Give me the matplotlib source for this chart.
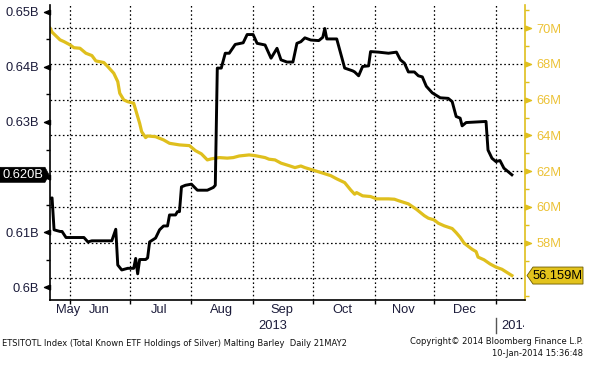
import matplotlib
matplotlib.use('Agg')
import matplotlib.pyplot as plt
import matplotlib.dates as mdates
from matplotlib.transforms import (blended_transform_factory, IdentityTransform,
                                   Bbox, TransformedBbox)
from matplotlib.patches import Polygon
from matplotlib.path import Path
import numpy as np
import pandas as pd

# ---------------- data ----------------
black_dates = ['2013-05-22', '2013-05-23', '2013-05-24', '2013-05-27', '2013-05-28', '2013-05-30',
               '2013-06-05', '2013-06-08', '2013-06-10', '2013-06-12', '2013-06-22', '2013-06-24',
               '2013-06-25', '2013-06-27', '2013-06-30', '2013-07-03', '2013-07-04', '2013-07-05',
               '2013-07-06', '2013-07-09', '2013-07-10', '2013-07-11', '2013-07-14', '2013-07-16',
               '2013-07-18', '2013-07-20', '2013-07-21', '2013-07-24', '2013-07-25', '2013-07-26',
               '2013-07-27', '2013-07-29', '2013-08-01', '2013-08-04', '2013-08-09', '2013-08-12',
               '2013-08-13', '2013-08-14', '2013-08-16', '2013-08-18', '2013-08-20', '2013-08-23',
               '2013-08-27', '2013-08-29', '2013-09-01', '2013-09-03', '2013-09-07', '2013-09-10',
               '2013-09-13', '2013-09-15', '2013-09-18', '2013-09-21', '2013-09-23', '2013-09-25',
               '2013-09-27', '2013-09-30', '2013-10-04', '2013-10-06', '2013-10-07', '2013-10-08',
               '2013-10-13', '2013-10-17', '2013-10-21', '2013-10-22', '2013-10-24', '2013-10-26',
               '2013-10-29', '2013-10-30', '2013-11-03', '2013-11-08', '2013-11-12', '2013-11-14',
               '2013-11-16', '2013-11-18', '2013-11-21', '2013-11-23', '2013-11-25', '2013-11-27',
               '2013-11-30', '2013-12-04', '2013-12-08', '2013-12-10', '2013-12-12', '2013-12-14',
               '2013-12-15', '2013-12-17', '2013-12-27', '2013-12-28', '2013-12-30', '2014-01-01',
               '2014-01-03', '2014-01-05', '2014-01-07', '2014-01-09']
black_vals = [0.6161, 0.6162, 0.6104, 0.6101, 0.6101, 0.6090,
              0.6090, 0.6090, 0.6082, 0.6084, 0.6084, 0.6105,
              0.6040, 0.6031, 0.6034, 0.6034, 0.6052, 0.6024,
              0.6050, 0.6050, 0.6053, 0.6082, 0.6089, 0.6104,
              0.6111, 0.6111, 0.6131, 0.6131, 0.6137, 0.6137,
              0.6182, 0.6185, 0.6187, 0.6176, 0.6176, 0.6181,
              0.6185, 0.6398, 0.6398, 0.6425, 0.6425, 0.6441,
              0.6444, 0.6459, 0.6459, 0.6443, 0.6440, 0.6416,
              0.6434, 0.6413, 0.6409, 0.6409, 0.6443, 0.6446,
              0.6453, 0.6449, 0.6448, 0.6454, 0.6470, 0.6451,
              0.6451, 0.6398, 0.6393, 0.6391, 0.6384, 0.6401,
              0.6402, 0.6428, 0.6427, 0.6425, 0.6427, 0.6413,
              0.6407, 0.6391, 0.6391, 0.6384, 0.6382, 0.6365,
              0.6353, 0.6344, 0.6343, 0.6337, 0.6310, 0.6307,
              0.6293, 0.6299, 0.6301, 0.6249, 0.6234, 0.6228,
              0.6230, 0.6216, 0.6210, 0.6204]

yellow_dates = ['2013-05-22', '2013-05-23', '2013-05-27', '2013-05-29', '2013-06-01', '2013-06-03',
                '2013-06-06', '2013-06-09', '2013-06-12', '2013-06-14', '2013-06-18', '2013-06-20',
                '2013-06-23', '2013-06-25', '2013-06-26', '2013-06-28', '2013-06-30', '2013-07-03',
                '2013-07-04', '2013-07-06', '2013-07-07', '2013-07-09', '2013-07-10', '2013-07-14',
                '2013-07-18', '2013-07-21', '2013-07-26', '2013-07-31', '2013-08-03', '2013-08-06',
                '2013-08-09', '2013-08-11', '2013-08-15', '2013-08-19', '2013-08-22', '2013-08-25',
                '2013-08-30', '2013-09-02', '2013-09-07', '2013-09-09', '2013-09-12', '2013-09-15',
                '2013-09-19', '2013-09-22', '2013-09-25', '2013-09-27', '2013-10-02', '2013-10-06',
                '2013-10-10', '2013-10-13', '2013-10-17', '2013-10-20', '2013-10-22', '2013-10-23',
                '2013-10-26', '2013-10-30', '2013-11-02', '2013-11-08', '2013-11-11', '2013-11-13',
                '2013-11-18', '2013-11-22', '2013-11-26', '2013-11-28', '2013-12-01', '2013-12-03',
                '2013-12-06', '2013-12-10', '2013-12-12', '2013-12-14', '2013-12-16', '2013-12-20',
                '2013-12-22', '2013-12-23', '2013-12-26', '2013-12-29', '2014-01-01', '2014-01-04',
                '2014-01-09']
yellow_vals = [70.00, 69.78, 69.35, 69.25, 69.07, 68.91,
               68.88, 68.60, 68.47, 68.17, 68.08, 67.85,
               67.48, 67.01, 66.36, 65.99, 65.89, 65.80,
               65.43, 64.68, 64.21, 63.88, 63.97, 63.93,
               63.75, 63.56, 63.47, 63.43, 63.15, 62.97,
               62.63, 62.69, 62.76, 62.73, 62.76, 62.85,
               62.91, 62.87, 62.76, 62.67, 62.63, 62.45,
               62.31, 62.20, 62.29, 62.20, 62.03, 61.89,
               61.75, 61.57, 61.36, 60.95, 60.71, 60.80,
               60.62, 60.58, 60.45, 60.45, 60.43, 60.35,
               60.17, 59.87, 59.51, 59.37, 59.27, 59.09,
               58.94, 58.79, 58.56, 58.30, 57.97, 57.63,
               57.50, 57.19, 57.04, 56.81, 56.63, 56.51,
               56.159]

left_ticks = [0.60, 0.61, 0.62, 0.63, 0.64, 0.65]
left_labels = ['0.6B', '0.61B', '', '0.63B', '0.64B', '0.65B']
left_minor = [0.605, 0.615, 0.625, 0.635, 0.645]
right_ticks = [56, 58, 60, 62, 64, 66, 68, 70]
right_labels = ['', '58M', '60M', '62M', '64M', '66M', '68M', '70M']
right_minor = [55, 57, 59, 61, 63, 65, 67, 69, 71]
month_starts = ['2013-06-01', '2013-07-01', '2013-08-01', '2013-09-01', '2013-10-01',
                '2013-11-01', '2013-12-01', '2014-01-01']
month_labels = ['May', 'Jun', 'Jul', 'Aug', 'Sep', 'Oct', 'Nov', 'Dec']
month_label_dates = ['2013-05-31 00:00', '2013-06-15 12:00', '2013-07-16 00:00', '2013-08-16 00:00',
                     '2013-09-15 12:00', '2013-10-16 00:00', '2013-11-15 12:00', '2013-12-16 00:00']
x_start = '2013-05-21 23:00'
x_end = '2014-01-15 14:00'
left_lim = (0.59764, 0.65127)
right_lim = (54.79, 71.30)

# ---------------- styling ----------------
W, H = 590, 367
BLACK = '#000000'
YEL = '#dfbf1d'
YEL_TXT = '#ecc236'
NAVY = '#1b1b3a'
AXF = 'Liberation Sans'
FS = 9.3

fig = plt.figure(figsize=(W / 100, H / 100), dpi=100)
rect = [50 / W, 1 - 300 / H, 475 / W, 295 / H]
ax = fig.add_axes(rect)
ax2 = ax.twinx()
ax.set_zorder(ax2.get_zorder() + 1)
ax.patch.set_visible(False)

bd = pd.to_datetime(black_dates)
yd = pd.to_datetime(yellow_dates)
ms = pd.to_datetime(month_starts)

ax.set_xlim(pd.Timestamp(x_start), pd.Timestamp(x_end))
ax.set_ylim(*left_lim)
ax2.set_ylim(*right_lim)

dot = (0, (1.3, 2.0))
for y in right_ticks:
    ax2.axhline(y, color='black', lw=0.9, ls=dot, zorder=1)
for d in ms:
    ax2.axvline(d, color='black', lw=0.9, ls=dot, zorder=1)

ax2.plot(yd, yellow_vals, color=YEL, lw=2.3, solid_joinstyle='round', zorder=3)
ax.plot(bd, black_vals, color=BLACK, lw=2.1, solid_joinstyle='round', zorder=3)

# spines
for s in ['top']:
    ax.spines[s].set_visible(False)
    ax2.spines[s].set_visible(False)
ax.spines['right'].set_visible(False)
ax2.spines['left'].set_visible(False)
ax2.spines['bottom'].set_visible(False)
ax2.spines['right'].set_color(YEL)
ax2.spines['right'].set_linewidth(1.2)
ax.spines['left'].set_linewidth(1.2)
ax.spines['bottom'].set_linewidth(1.2)

# left y axis
ax.set_yticks(left_ticks)
ax.set_yticklabels(left_labels, fontfamily=AXF)
ax.set_yticks(left_minor, minor=True)
ax.tick_params(axis='y', which='major', length=0, pad=8, labelsize=FS, labelcolor=NAVY)
ax.tick_params(axis='y', which='minor', length=3, width=1, direction='out', color='black')

# right y axis
ax2.set_yticks(right_ticks)
ax2.set_yticklabels(right_labels, fontfamily=AXF)
ax2.set_yticks(right_minor, minor=True)
ax2.tick_params(axis='y', which='major', length=0, pad=8, labelsize=FS, labelcolor=YEL_TXT)
ax2.tick_params(axis='y', which='minor', length=3, width=1, direction='out', color=YEL)

# x axis
ax.set_xticks(ms)
ax.set_xticklabels([''] * len(ms))
ax.set_xticks(pd.to_datetime(month_label_dates), minor=True)
ax.set_xticklabels(month_labels, minor=True, fontfamily=AXF)
ax.tick_params(axis='x', which='major', length=3, width=1, direction='out')
ax.tick_params(axis='x', which='minor', length=0, pad=3, labelsize=FS, labelcolor=NAVY)

# triangle markers on y axes
tri_left = Path([(0, 0.4), (-1, 0), (0, -0.4), (0, 0.4)])
tri_right = Path([(0, 0.4), (1, 0), (0, -0.4), (0, 0.4)])
tl = blended_transform_factory(ax.transAxes, ax.transData)
ax.plot([0] * len(left_ticks), left_ticks, ls='none', marker=tri_left, ms=8.6,
        color='black', transform=tl, clip_on=False, zorder=5)
tr = blended_transform_factory(ax2.transAxes, ax2.transData)
ax2.plot([1] * len(right_ticks[1:]), right_ticks[1:], ls='none', marker=tri_right, ms=8.6,
         color=YEL, transform=tr, clip_on=False, zorder=5)

# year labels
xl = ax.get_xlim()
jan1 = mdates.date2num(pd.Timestamp('2014-01-01'))
tx = blended_transform_factory(ax.transData, fig.transFigure)
fig.text((xl[0] + jan1) / 2, 1 - 326 / H, '2013', transform=tx, ha='center', va='center',
         fontsize=FS, color=NAVY, family=AXF)
fig.add_artist(plt.Line2D([jan1, jan1], [1 - 318 / H, 1 - 333 / H], transform=tx,
                          color='#555555', lw=1))
t2014 = fig.text(501 / W, 1 - 326 / H, '2014', ha='left', va='center', fontsize=FS,
                 color=NAVY, family=AXF)
t2014.set_clip_box(TransformedBbox(Bbox([[0, 0], [524 / W, 1]]), fig.transFigure))
t2014.set_clip_on(True)

# footer
fig.text(2 / W, 1 - 343 / H, 'ETSITOTL Index (Total Known ETF Holdings of Silver) Malting Barley  Daily 21MAY2',
         ha='left', va='center', fontsize=6, color='#111111')
fig.text(583 / W, 1 - 342 / H, 'Copyright\u00a9 2014 Bloomberg Finance L.P.', ha='right', va='center',
         fontsize=6, color='#111111')
fig.text(583 / W, 1 - 354 / H, '10-Jan-2014 15:36:48', ha='right', va='center',
         fontsize=6, color='#111111')

# last-value boxes
fig.canvas.draw()
yb = ax.transData.transform((0, black_vals[-1]))[1]
x_ax_left = ax.transAxes.transform((0, 0))[0]
poly = Polygon([(0, yb - 7.5), (x_ax_left - 5, yb - 7.5), (x_ax_left - 1, yb),
                (x_ax_left - 5, yb + 7.5), (0, yb + 7.5)], closed=True,
               transform=IdentityTransform(), facecolor='black', edgecolor='black', lw=0.5)
fig.add_artist(poly)
fig.text((x_ax_left - 4) / 2 / W, yb / H, f'{black_vals[-1]:.3f}B', ha='center', va='center',
         fontsize=FS, color='white', family=AXF)

yy = ax2.transData.transform((0, yellow_vals[-1]))[1]
x_ax_right = ax2.transAxes.transform((1, 0))[0]
poly2 = Polygon([(x_ax_right + 2, yy), (x_ax_right + 8, yy + 8.5), (583, yy + 8.5),
                 (583, yy - 8.5), (x_ax_right + 8, yy - 8.5)], closed=True,
                transform=IdentityTransform(), facecolor='#e3c31c', edgecolor='#6b5a00', lw=0.6)
fig.add_artist(poly2)
fig.text((x_ax_right + 8 + 583) / 2 / W, yy / H, f'{yellow_vals[-1]:.3f}M', ha='center',
         va='center', fontsize=FS, color='black', family=AXF)

fig.savefig('out.png', dpi=100)
